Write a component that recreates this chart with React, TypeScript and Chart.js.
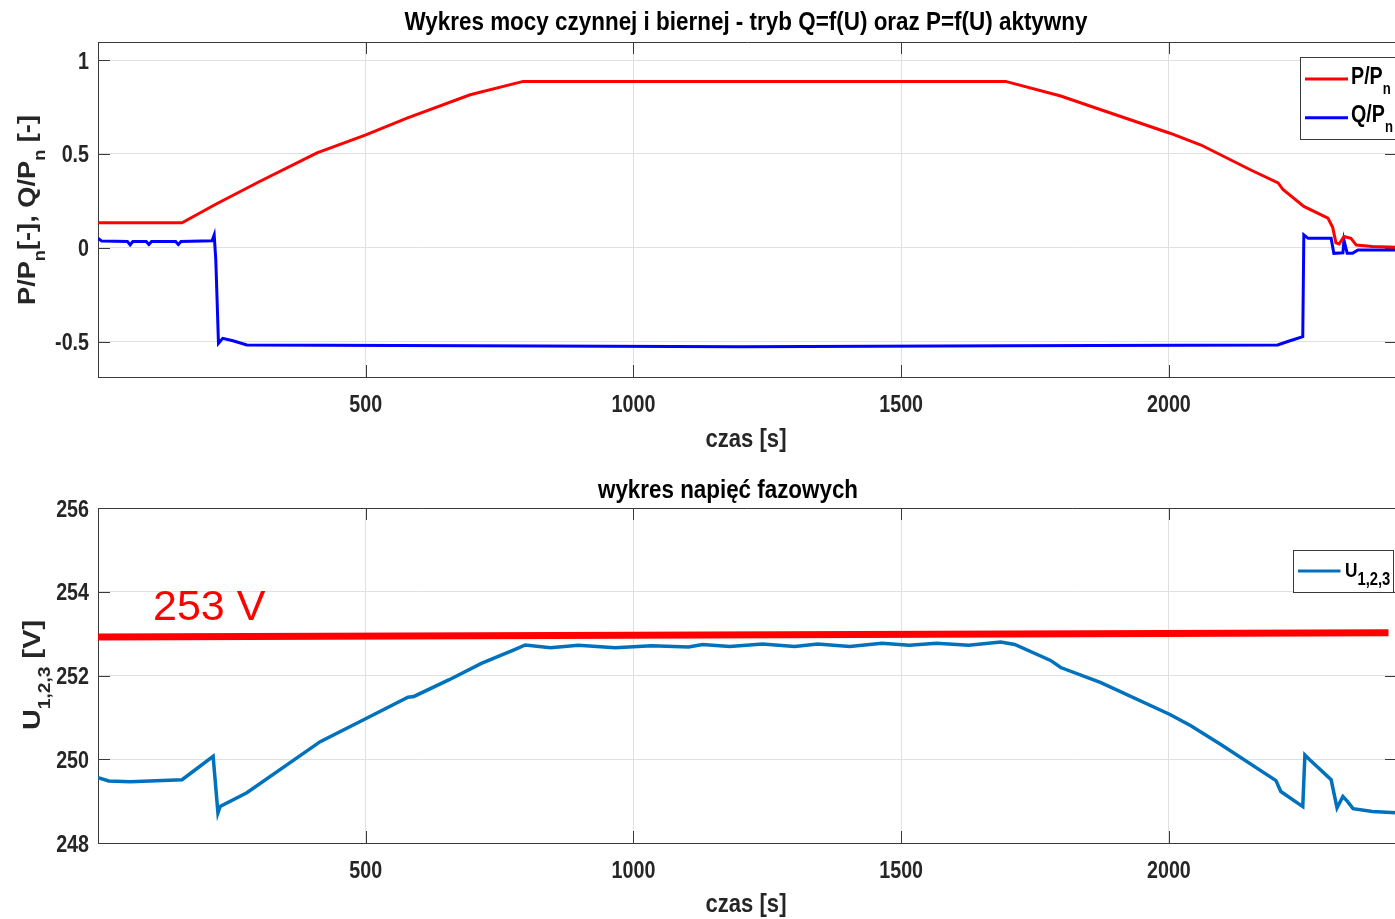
import React, { useEffect, useRef } from 'react';
import { Chart, registerables } from 'chart.js';

Chart.register(...registerables);

// ---------------- data ----------------
const xTickValues = [500, 1000, 1500, 2000];
const topYTickValues = [-0.5, 0, 0.5, 1];
const bottomYTickValues = [248, 250, 252, 254, 256];

const pTime = [0, 157, 219, 300, 409, 499, 577, 695, 794, 1000, 1300, 1695, 1798, 1873, 2002, 2060, 2153, 2204, 2213, 2252, 2297, 2306, 2312, 2318, 2327, 2340, 2350, 2380, 2424];
const pValues = [0.133, 0.133, 0.23, 0.35, 0.505, 0.6, 0.69, 0.815, 0.886, 0.886, 0.885, 0.886, 0.808, 0.735, 0.61, 0.547, 0.414, 0.345, 0.31, 0.22, 0.158, 0.107, 0.026, 0.02, 0.06, 0.05, 0.014, 0.007, 0.003];

const qTime = [0, 7, 55, 60, 65, 90, 95, 100, 145, 150, 155, 213, 217, 220, 225, 233, 252, 278, 700, 1200, 1700, 2203, 2222, 2250, 2252, 2260, 2303, 2308, 2325, 2327, 2333, 2343, 2353, 2424];
const qValues = [0.05, 0.035, 0.033, 0.015, 0.033, 0.033, 0.017, 0.033, 0.033, 0.017, 0.033, 0.037, 0.068, -0.065, -0.51, -0.483, -0.496, -0.518, -0.522, -0.528, -0.522, -0.518, -0.5, -0.474, 0.068, 0.05, 0.05, -0.03, -0.027, 0.04, -0.03, -0.03, -0.012, -0.012];

const uTime = [0, 20, 60, 157, 215, 224, 228, 278, 415, 497, 579, 590, 656, 716, 778, 798, 845, 897, 966, 1034, 1103, 1129, 1180, 1241, 1301, 1344, 1404, 1464, 1515, 1566, 1626, 1686, 1712, 1779, 1798, 1873, 2002, 2041, 2097, 2200, 2209, 2250, 2254, 2262, 2303, 2314, 2325, 2333, 2344, 2380, 2424];
const uValues = [249.56, 249.48, 249.46, 249.51, 250.07, 248.72, 248.87, 249.2, 250.42, 250.95, 251.48, 251.5, 251.9, 252.29, 252.62, 252.73, 252.66, 252.72, 252.66, 252.71, 252.68, 252.74, 252.69, 252.75, 252.69, 252.75, 252.69, 252.77, 252.72, 252.77, 252.72, 252.8, 252.74, 252.36, 252.19, 251.83, 251.07, 250.8, 250.35, 249.49, 249.23, 248.87, 250.1, 250.0, 249.51, 248.84, 249.11, 249.0, 248.82, 248.75, 248.72];

const limitTime = [0, 2410];
const limitValues = [252.92, 253.02];

// ---------------- style ----------------
const FONT = '"Liberation Sans", Arial, Helvetica, sans-serif';
const NARROW = 0.82;
const GRID = '#e0e0e0';
const AXIS = '#3a3a3a';
const TEXT = '#262626';
const X_MAX = 2426;

const toPoints = (xs: number[], ys: number[]) => xs.map((x, i) => ({ x, y: ys[i] }));

function fillScaled(ctx: CanvasRenderingContext2D, text: string, x: number, y: number, font: string, sx: number, align: string) {
  ctx.font = font;
  const w = ctx.measureText(text).width * sx;
  const left = align === 'center' ? x - w / 2 : align === 'right' ? x - w : x;
  ctx.save();
  ctx.translate(left, y);
  ctx.scale(sx, 1);
  ctx.textAlign = 'left';
  ctx.textBaseline = 'alphabetic';
  ctx.fillText(text, 0, 0);
  ctx.restore();
}

type Part = { t: string; sub?: boolean };
function parseRich(s: string): Part[] {
  const parts: Part[] = [];
  const re = /_\{([^}]*)\}/g;
  let last = 0;
  let m: RegExpExecArray | null;
  while ((m = re.exec(s))) {
    if (m.index > last) parts.push({ t: s.slice(last, m.index) });
    parts.push({ t: m[1], sub: true });
    last = re.lastIndex;
  }
  if (last < s.length) parts.push({ t: s.slice(last) });
  return parts;
}

function drawRich(ctx: CanvasRenderingContext2D, text: string, x: number, y: number, size: number, align: string, color: string, sx: number, targetW?: number, subScale = 0.66) {
  const parts = parseRich(text);
  const mainFont = `bold ${size}px ${FONT}`;
  const subFont = `bold ${Math.round(size * subScale)}px ${FONT}`;
  let total = 0;
  const widths = parts.map((p) => {
    ctx.font = p.sub ? subFont : mainFont;
    const w = ctx.measureText(p.t).width;
    total += w;
    return w;
  });
  const s = targetW ? targetW / total : sx;
  let cx = align === 'center' ? x - (total * s) / 2 : x;
  ctx.fillStyle = color;
  parts.forEach((p, i) => {
    fillScaled(ctx, p.t, cx, p.sub ? y + size * 0.42 : y, p.sub ? subFont : mainFont, s, 'left');
    cx += widths[i] * s;
  });
}

const decorPlugin = {
  id: 'decor',
  beforeDatasetsDraw(chart: any) {
    const { ctx, chartArea: a, scales } = chart;
    ctx.save();
    ctx.strokeStyle = AXIS;
    ctx.lineWidth = 1;
    ctx.beginPath();
    ctx.moveTo(a.left, a.top + 0.5);
    ctx.lineTo(a.right, a.top + 0.5);
    ctx.moveTo(a.right - 0.5, a.top);
    ctx.lineTo(a.right - 0.5, a.bottom);
    const tl = 12;
    scales.x.ticks.forEach((t: any) => {
      const px = Math.round(scales.x.getPixelForValue(t.value)) + 0.5;
      ctx.moveTo(px, a.bottom);
      ctx.lineTo(px, a.bottom - tl);
      ctx.moveTo(px, a.top);
      ctx.lineTo(px, a.top + tl);
    });
    scales.y.ticks.forEach((t: any) => {
      const py = Math.round(scales.y.getPixelForValue(t.value)) + 0.5;
      ctx.moveTo(a.left, py);
      ctx.lineTo(a.left + tl, py);
      ctx.moveTo(a.right, py);
      ctx.lineTo(a.right - tl, py);
    });
    ctx.stroke();
    ctx.restore();
  },
  afterDraw(chart: any, _args: any, opts: any) {
    const { ctx, chartArea: a, scales } = chart;
    ctx.save();
    // tick labels, taken from the library's own ticks and scale positions
    const tickFont = `bold ${opts.tickSize}px ${FONT}`;
    ctx.fillStyle = TEXT;
    scales.x.ticks.forEach((t: any) => {
      const px = scales.x.getPixelForValue(t.value);
      fillScaled(ctx, String(t.label ?? t.value), px, a.bottom + opts.xTickBaseline, tickFont, NARROW, 'center');
    });
    scales.y.ticks.forEach((t: any) => {
      const py = scales.y.getPixelForValue(t.value);
      fillScaled(ctx, String(t.label ?? t.value), a.left - opts.yTickGap, py + opts.tickSize * 0.358, tickFont, NARROW, 'right');
    });
    // title
    if (opts.title) {
      const tt = opts.title;
      ctx.fillStyle = '#000';
      ctx.font = `bold ${tt.size}px ${FONT}`;
      const sx = tt.w / ctx.measureText(tt.text).width;
      fillScaled(ctx, tt.text, tt.x, tt.y, `bold ${tt.size}px ${FONT}`, sx, 'center');
    }
    if (opts.xTitle) {
      const tt = opts.xTitle;
      ctx.fillStyle = TEXT;
      ctx.font = `bold ${tt.size}px ${FONT}`;
      const sx = tt.w / ctx.measureText(tt.text).width;
      fillScaled(ctx, tt.text, tt.x, tt.y, `bold ${tt.size}px ${FONT}`, sx, 'center');
    }
    if (opts.yTitle) {
      ctx.save();
      ctx.translate(opts.yTitle.x, opts.yTitle.cy);
      ctx.rotate(-Math.PI / 2);
      drawRich(ctx, opts.yTitle.text, 0, 0, opts.yTitle.size, 'center', TEXT, NARROW, opts.yTitle.w);
      ctx.restore();
    }
    if (opts.annotation) {
      const an = opts.annotation;
      ctx.font = `${an.size}px "Liberation Sans", "Open Sans", sans-serif`;
      ctx.fillStyle = an.color;
      ctx.textAlign = 'left';
      ctx.textBaseline = 'alphabetic';
      ctx.fillText(an.text, an.x, an.y);
    }
    if (opts.legend) {
      const lg = opts.legend;
      ctx.fillStyle = '#fff';
      ctx.fillRect(lg.x, lg.y, lg.w, lg.h);
      ctx.strokeStyle = AXIS;
      ctx.lineWidth = 1;
      ctx.strokeRect(lg.x + 0.5, lg.y + 0.5, lg.w, lg.h);
      const items = chart.data.datasets.filter((d: any) => d.inLegend !== false);
      items.forEach((d: any, i: number) => {
        const ly = lg.y + lg.firstLineY + i * lg.rowGap;
        ctx.strokeStyle = d.borderColor;
        ctx.lineWidth = 3;
        ctx.beginPath();
        ctx.moveTo(lg.x + lg.lineStart, ly);
        ctx.lineTo(lg.x + lg.lineEnd, ly);
        ctx.stroke();
        drawRich(ctx, d.label, lg.x + lg.textX, ly + lg.baseOff, lg.size, 'left', '#000', NARROW, undefined, lg.subScale);
      });
    }
    ctx.restore();
  },
};

function xAxis(height: number) {
  return {
    type: 'linear',
    min: 0,
    max: X_MAX,
    afterBuildTicks: (s: any) => {
      s.ticks = xTickValues.map((v) => ({ value: v }));
    },
    afterFit: (s: any) => {
      s.height = height;
    },
    grid: { color: GRID, drawTicks: false, lineWidth: 1 },
    border: { color: AXIS, width: 1 },
    ticks: { display: false, autoSkip: false, callback: (v: any) => String(v) },
  };
}

function yAxis(min: number, max: number, values: number[]) {
  return {
    type: 'linear',
    min,
    max,
    afterBuildTicks: (s: any) => {
      s.ticks = values.map((v) => ({ value: v }));
    },
    afterFit: (s: any) => {
      s.width = 98;
    },
    grid: { color: GRID, drawTicks: false, lineWidth: 1 },
    border: { color: AXIS, width: 1 },
    ticks: { display: false, autoSkip: false, callback: (v: any) => String(v) },
  };
}

function topConfig(): any {
  return {
    type: 'line',
    data: {
      datasets: [
        { label: 'P/P_{n}', data: toPoints(pTime, pValues), borderColor: '#ff0000', borderWidth: 3, pointRadius: 0, tension: 0 },
        { label: 'Q/P_{n}', data: toPoints(qTime, qValues), borderColor: '#0000ff', borderWidth: 3, pointRadius: 0, tension: 0 },
      ],
    },
    options: {
      animation: false,
      responsive: false,
      layout: { padding: { top: 42, right: 3, left: 0, bottom: 0 } },
      scales: { x: xAxis(85), y: yAxis(-0.689, 1.096, topYTickValues) },
      plugins: {
        legend: { display: false },
        tooltip: { enabled: false },
        decor: {
          tickSize: 24,
          xTickBaseline: 35,
          yTickGap: 9,
          title: { text: 'Wykres mocy czynnej i biernej - tryb Q=f(U) oraz P=f(U) aktywny', x: 746, y: 30, size: 25, w: 683 },
          xTitle: { text: 'czas [s]', x: 746, y: 447, size: 25, w: 81 },
          yTitle: { text: 'P/P_{n}[-], Q/P_{n} [-]', x: 35, cy: 210, size: 24, w: 190 },
          legend: { x: 1300, y: 57, w: 120, h: 82, firstLineY: 22, rowGap: 38.7, lineStart: 5, lineEnd: 48, textX: 51, baseOff: 4.5, size: 24, subScale: 0.66 },
        },
      },
    },
    plugins: [decorPlugin],
  };
}

function bottomConfig(): any {
  return {
    type: 'line',
    data: {
      datasets: [
        { label: 'U_{1,2,3}', data: toPoints(uTime, uValues), borderColor: '#0072bd', borderWidth: 3.5, pointRadius: 0, tension: 0 },
        { label: '253 V', inLegend: false, data: toPoints(limitTime, limitValues), borderColor: '#ff0000', borderWidth: 7, pointRadius: 0, tension: 0 },
      ],
    },
    options: {
      animation: false,
      responsive: false,
      layout: { padding: { top: 46, right: 3, left: 0, bottom: 0 } },
      scales: { x: xAxis(76), y: yAxis(248, 256, bottomYTickValues) },
      plugins: {
        legend: { display: false },
        tooltip: { enabled: false },
        decor: {
          tickSize: 24,
          xTickBaseline: 35,
          yTickGap: 9,
          title: { text: 'wykres napięć fazowych', x: 728, y: 36, size: 25, w: 260 },
          xTitle: { text: 'czas [s]', x: 746, y: 450, size: 25, w: 81 },
          yTitle: { text: 'U_{1,2,3} [V]', x: 40, cy: 213, size: 24, w: 110 },
          annotation: { text: '253 V', x: 153, y: 158, size: 43, color: '#ff0000' },
          legend: { x: 1293, y: 88, w: 100, h: 42, firstLineY: 21, rowGap: 0, lineStart: 5, lineEnd: 47.5, textX: 52, baseOff: 5.5, size: 21, subScale: 0.86 },
        },
      },
    },
    plugins: [decorPlugin],
  };
}

function ChartCanvas({ makeConfig, width, height, top }: any) {
  const ref = useRef<HTMLCanvasElement>(null);
  useEffect(() => {
    const chart = new Chart(ref.current as HTMLCanvasElement, makeConfig());
    return () => chart.destroy();
  }, []);
  return (
    <canvas
      ref={ref}
      width={width}
      height={height}
      style={{ position: 'absolute', left: 0, top, width, height, display: 'block' }}
    />
  );
}

export default function App() {
  return (
    <div
      style={{
        position: 'absolute',
        left: 0,
        top: 0,
        width: 1395,
        height: 919,
        overflow: 'hidden',
        background: '#fff',
      }}
    >
      <ChartCanvas makeConfig={topConfig} width={1400} height={462} top={0} />
      <ChartCanvas makeConfig={bottomConfig} width={1400} height={457} top={462} />
    </div>
  );
}
